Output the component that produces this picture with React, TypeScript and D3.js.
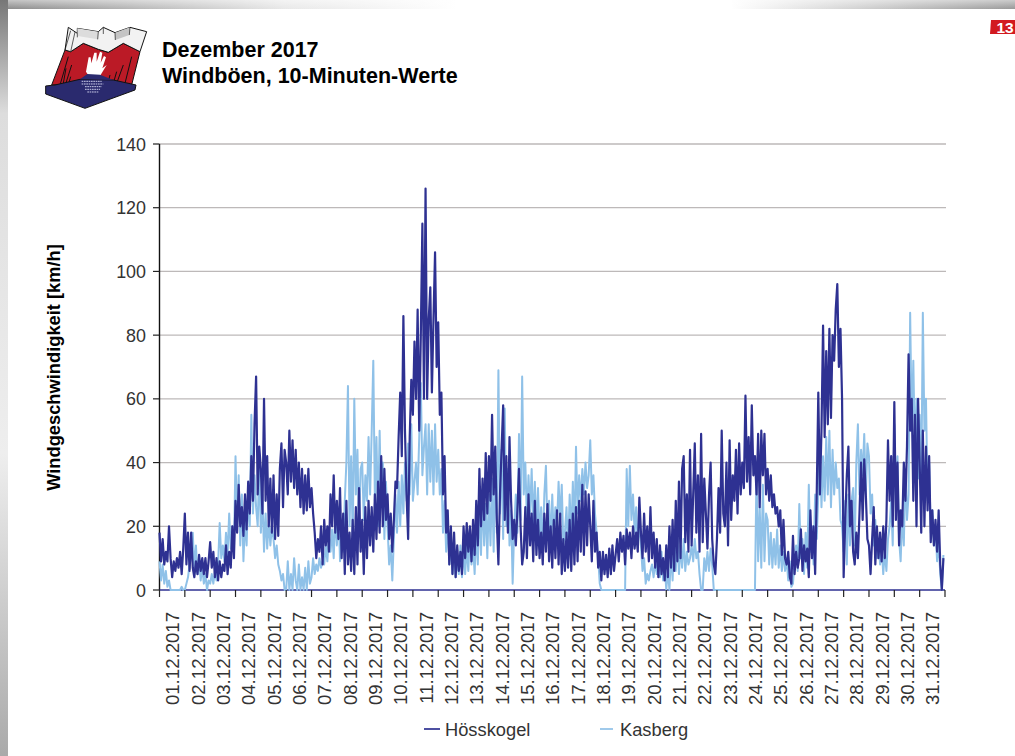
import React from "react";
import * as d3 from "d3";

const yTicks = [0, 20, 40, 60, 80, 100, 120, 140];
const dayLabels = d3.range(1, 32).map((d) => `${String(d).padStart(2, "0")}.12.2017`);
const samplesPerDay = 16;

const hoesskogel = [
  18,9,16,8,12,9,20,10,4,9,6,10,7,12,5,13,
  24,8,18,6,18,7,4,9,5,11,6,10,5,10,4,9,
  15,7,12,4,10,3,9,4,8,6,14,5,12,7,20,10,
  28,18,33,20,26,17,30,19,34,24,42,28,52,67,30,45,
  38,24,60,28,42,20,35,18,36,16,30,17,38,46,26,44,
  40,30,50,34,47,32,44,30,40,26,38,24,36,25,38,26,
  32,24,18,10,16,12,20,8,22,14,20,12,30,20,36,18,
  28,16,32,10,24,5,28,8,18,6,22,5,26,8,32,12,
  22,5,26,10,28,14,26,12,30,16,34,18,42,20,38,22,
  30,16,24,12,22,34,32,48,62,42,86,50,30,16,48,66,
  55,78,60,88,50,80,115,60,126,60,85,95,62,85,106,70,
  84,55,62,30,42,18,25,8,20,5,18,4,14,6,12,5,
  20,10,21,12,20,9,22,11,28,14,38,20,35,22,43,24,
  42,28,55,30,45,22,8,30,44,58,22,42,18,48,28,16,
  22,14,25,38,20,8,12,26,10,30,14,24,9,28,11,22,
  10,18,8,24,12,27,9,20,7,22,10,25,8,24,5,16,
  6,18,7,22,6,24,8,26,9,28,12,33,11,31,14,30,
  20,9,28,12,18,7,12,3,12,5,11,4,13,5,14,6,
  11,16,9,18,12,17,8,19,13,18,10,20,13,18,12,29,
  18,10,24,12,20,9,26,10,18,7,16,4,14,5,10,3,
  14,4,20,7,22,6,28,9,34,10,38,42,15,30,12,44,
  14,30,46,18,36,12,49,15,35,24,13,30,40,16,8,5,
  16,32,18,50,24,20,40,14,47,22,36,28,44,24,46,30,
  40,32,61,34,48,30,58,36,42,30,49,26,50,36,49,30,
  38,28,36,26,30,24,26,20,25,11,22,10,8,12,4,2,
  17,5,12,7,10,19,6,14,9,13,4,25,10,20,5,30,
  62,30,50,83,48,75,52,82,54,80,72,88,96,70,82,60,
  4,22,36,45,20,28,12,8,18,10,24,40,22,41,30,16,
  14,5,16,26,8,20,10,18,9,20,10,22,47,28,42,20,
  59,22,40,14,25,20,40,28,45,74,50,60,28,55,20,60,
  40,18,50,20,45,25,42,15,25,14,22,12,25,8,0,10,
];

const kasberg = [
  9,3,8,2,6,1,3,0,0,0,0,0,0,0,1,0,
  0,2,4,8,10,18,6,14,5,10,3,7,2,5,0,3,
  2,5,2,6,3,8,21,10,14,9,18,11,24,13,20,12,
  42,20,36,14,30,9,22,14,30,20,55,24,36,26,20,40,
  18,30,12,24,13,22,14,20,16,10,14,8,6,3,5,0,
  0,9,0,5,0,10,3,0,8,0,4,0,7,0,9,2,
  4,10,5,8,6,10,7,9,8,14,9,17,12,19,10,24,
  14,26,9,20,12,28,40,64,20,42,16,60,30,44,18,38,
  40,22,36,28,48,30,50,72,28,48,20,50,26,40,16,34,
  20,8,14,3,16,30,18,34,20,36,24,40,28,46,30,52,
  28,34,40,30,48,65,36,45,52,30,52,34,50,30,52,34,
  44,30,38,18,28,12,22,8,14,5,12,4,10,5,14,4,
  12,5,14,6,18,8,14,5,20,8,28,11,30,14,27,10,
  30,14,35,12,40,18,69,24,44,16,57,20,38,14,25,2,
  20,30,18,49,22,67,30,40,22,36,24,38,20,34,18,32,
  16,26,12,30,39,18,28,14,30,16,26,20,34,22,33,14,
  18,26,12,30,16,34,18,45,24,36,28,38,30,40,32,36,
  47,30,36,24,18,10,2,0,0,0,0,0,0,0,0,0,
  0,0,0,0,0,0,0,38,20,39,22,30,18,26,14,22,
  14,6,10,2,5,3,6,8,4,9,5,10,4,12,3,8,
  0,6,0,12,3,16,6,18,5,14,7,16,6,12,8,10,
  14,9,16,10,12,5,0,0,10,6,12,6,13,8,0,0,
  0,0,0,0,0,0,0,0,0,0,0,0,0,0,0,0,
  0,0,0,0,0,0,0,0,0,38,9,26,7,33,9,24,
  22,8,18,7,16,8,19,7,14,6,12,6,10,3,9,1,
  2,9,14,6,27,10,16,5,18,7,33,12,20,8,30,16,
  30,46,26,42,28,48,30,50,26,44,30,40,32,35,22,20,
  12,28,8,30,14,28,32,14,40,52,30,44,36,49,30,46,
  42,24,30,14,22,10,16,8,14,5,12,6,16,20,28,14,
  52,30,42,16,9,24,14,38,22,30,87,50,72,42,60,35,
  55,30,87,50,60,28,40,18,25,14,20,9,15,5,0,11,
];

const NAVY = "#2e3192";
const LIGHT = "#8fc1e8";
const FONT = "'Liberation Sans', Arial, sans-serif";
const TEXT = "#333";

export default function App() {
  const x = d3.scaleLinear().domain([0, 31]).range([159.5, 945]);
  const y = d3.scaleLinear().domain([0, 140]).range([590, 144]);
  const line = d3
    .line<number>()
    .x((_, i) => x(i / samplesPerDay))
    .y((d) => y(d));

  return (
    <svg
      width={1015}
      height={756}
      viewBox="0 0 1015 756"
      style={{ position: "absolute", left: 0, top: 0, background: "#fff" }}
      fontFamily={FONT}
    >
      <defs>
        <linearGradient id="topA" x1="0" x2="1" y1="0" y2="0">
          <stop offset="0" stopColor="#8a8a8a" />
          <stop offset="0.28" stopColor="#e8e8e8" />
          <stop offset="0.45" stopColor="#fff" />
          <stop offset="0.72" stopColor="#fff" />
          <stop offset="1" stopColor="#999" />
        </linearGradient>
        <linearGradient id="topFade" x1="0" x2="0" y1="0" y2="1">
          <stop offset="0" stopColor="#fff" stopOpacity={0.5} />
          <stop offset="1" stopColor="#fff" stopOpacity={0} />
        </linearGradient>
        <linearGradient id="leftA" x1="0" x2="0" y1="0" y2="1">
          <stop offset="0" stopColor="#777" />
          <stop offset="0.15" stopColor="#ddd" />
          <stop offset="0.6" stopColor="#eee" />
          <stop offset="1" stopColor="#aaa" />
        </linearGradient>
      </defs>

      {/* page shadow */}
      <rect x={0} y={0} width={1015} height={9} fill="url(#topA)" />
      <rect x={0} y={0} width={1015} height={9} fill="url(#topFade)" />
      <rect x={0} y={0} width={8} height={756} fill="url(#leftA)" />

      {/* page number */}
      <polygon points="991,20 1015,20 1015,34 990,34" fill="#d2191f" />
      <text x={1005} y={33} fontSize={15.5} fontWeight={700} fill="#fff" textAnchor="middle">
        13
      </text>

      {/* logo */}
      <g transform="scale(0.3333)" strokeLinejoin="round">
        <polygon
          points="195,150 212,155 250,130 295,148 325,157 370,130 420,155 395,255 155,255"
          fill="#bb1a26"
          stroke="#111"
          strokeWidth={3}
        />
        <polygon
          points="205,82 232,100 232,85 295,95 310,82 345,98 390,82 440,95 420,155 370,130 325,157 295,148 250,130 212,155 195,150"
          fill="#f2f2f2"
          stroke="#111"
          strokeWidth={3}
        />
        <polygon points="345,98 390,82 388,105 346,120" fill="#c4c4c4" />
        <polygon points="232,85 295,95 293,118 233,108" fill="#dcdcdc" />
        <path
          d="M212,92 L195,150 M225,96 L212,155 M232,100 L232,112 M295,95 L293,118 M310,82 L310,102 M345,98 L346,120 M390,82 L388,105"
          stroke="#111"
          strokeWidth={2}
          fill="none"
        />
        <path
          d="M205,170 L180,255 M215,195 L195,258 M198,205 L190,250 M395,170 L375,250 M370,195 L350,250 M350,215 L340,250 M212,230 L205,255 M330,225 L325,245"
          stroke="#111"
          strokeWidth={3}
          fill="none"
        />
        <path
          d="M258,215 L266,172 L272,172 L274,190 L283,158 L290,158 L290,185 L300,155 L307,158 L302,188 L312,168 L318,172 L307,205 L320,195 L300,228 L265,226 Z"
          fill="#fff"
        />
        <polygon
          points="137,258 165,255 240,238 340,240 408,255 405,270 255,325 137,282"
          fill="#2a2a6e"
          stroke="#111"
          strokeWidth={3}
        />
        <polygon points="240,238 262,222 300,224 340,240" fill="#2a2a6e" />
        <path
          d="M245,244 H305 M245,252 H310 M255,260 H305 M255,268 H300 M262,276 H295"
          stroke="#c9cbe8"
          strokeWidth={3}
          strokeDasharray="5 2"
          fill="none"
        />
      </g>

      {/* title */}
      <g fontWeight={700} fontSize={21.5} fill="#000">
        <text x={162} y={57}>Dezember 2017</text>
        <text x={162} y={83}>Windböen, 10-Minuten-Werte</text>
      </g>

      {/* grid */}
      {yTicks.filter((t) => t > 0).map((t) => (
        <line key={t} x1={159.5} x2={946} y1={y(t)} y2={y(t)} stroke="#bdb9b9" strokeWidth={1.3} />
      ))}

      {/* axes under the series */}
      <line x1={159.5} x2={159.5} y1={144} y2={590} stroke="#111" strokeWidth={1.4} />
      <line x1={159.5} x2={945} y1={590} y2={590} stroke={NAVY} strokeWidth={1.5} />

      {/* series */}
      <path d={line(kasberg) ?? ""} fill="none" stroke={LIGHT} strokeWidth={2} strokeLinejoin="round" />
      <path d={line(hoesskogel) ?? ""} fill="none" stroke={NAVY} strokeWidth={2.2} strokeLinejoin="round" />

      {yTicks.map((t) => (
        <g key={t}>
          <line x1={153} x2={159.5} y1={y(t)} y2={y(t)} stroke="#222" strokeWidth={1.2} />
          <text x={146} y={y(t) + 6.5} fontSize={17.9} textAnchor="end" fill={TEXT}>
            {t}
          </text>
        </g>
      ))}
      {d3.range(0, 32).map((i) => (
        <line key={i} x1={x(i)} x2={x(i)} y1={590} y2={597} stroke="#222" strokeWidth={1.2} />
      ))}
      {dayLabels.map((d, i) => {
        const cx = x(i + 0.5) + 7;
        return (
          <text
            key={d}
            transform={`translate(${cx},612) rotate(-90)`}
            fontSize={18.6}
            textAnchor="end"
            fill={TEXT}
          >
            {d}
          </text>
        );
      })}

      <text
        transform="translate(60,367.5) rotate(-90)"
        fontSize={18.3}
        fontWeight={700}
        textAnchor="middle"
        fill="#000"
      >
        Windgeschwindigkeit [km/h]
      </text>

      {/* legend */}
      <line x1={424} x2={440} y1={729} y2={729} stroke={NAVY} strokeWidth={1.7} />
      <text x={445} y={736} fontSize={18.3} fill={TEXT}>Hösskogel</text>
      <line x1={600} x2={613} y1={729} y2={729} stroke={LIGHT} strokeWidth={1.7} />
      <text x={620} y={736} fontSize={18.3} fill={TEXT}>Kasberg</text>
    </svg>
  );
}
